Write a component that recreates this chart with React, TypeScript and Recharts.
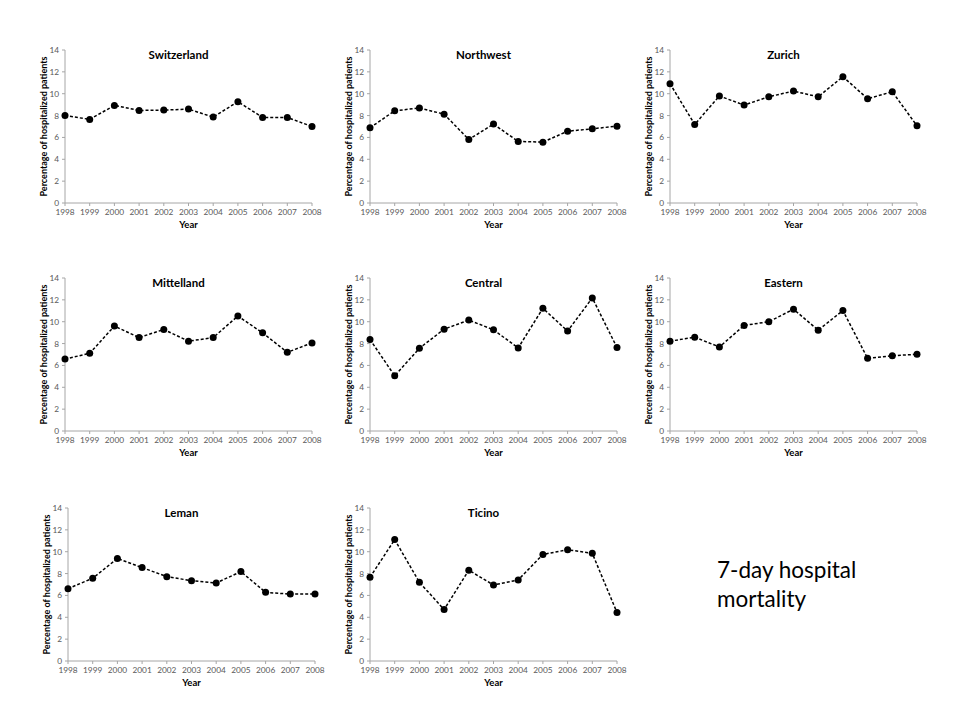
import React from 'react';
import { LineChart, Line, XAxis, YAxis } from 'recharts';

const years = [1998, 1999, 2000, 2001, 2002, 2003, 2004, 2005, 2006, 2007, 2008];
const yTicks = [0, 2, 4, 6, 8, 10, 12, 14];

const switzerland = [8.0, 7.65, 8.93, 8.47, 8.5, 8.59, 7.86, 9.27, 7.83, 7.83, 7.0];
const northwest = [6.88, 8.44, 8.69, 8.13, 5.81, 7.22, 5.63, 5.57, 6.57, 6.79, 7.03];
const zurich = [10.92, 7.19, 9.79, 8.96, 9.72, 10.24, 9.72, 11.56, 9.54, 10.18, 7.06];
const mittelland = [6.58, 7.11, 9.6, 8.55, 9.29, 8.22, 8.55, 10.52, 8.98, 7.2, 8.06];
const central = [8.37, 5.05, 7.57, 9.32, 10.15, 9.26, 7.6, 11.23, 9.14, 12.18, 7.63];
const eastern = [8.22, 8.58, 7.69, 9.66, 10.0, 11.14, 9.23, 11.02, 6.65, 6.89, 7.02];
const leman = [6.62, 7.57, 9.38, 8.55, 7.72, 7.35, 7.14, 8.18, 6.28, 6.12, 6.12];
const ticino = [7.66, 11.11, 7.2, 4.71, 8.31, 6.95, 7.42, 9.75, 10.18, 9.85, 4.43];

const titles = ['Switzerland', 'Northwest', 'Zurich', 'Mittelland', 'Central', 'Eastern', 'Leman', 'Ticino'];
const seriesList = [switzerland, northwest, zurich, mittelland, central, eastern, leman, ticino];

const yLabel = 'Percentage of hospitalized patients';
const xLabel = 'Year';
const sideText = ['7-day hospital', 'mortality'];

// layout: plot-area left / top for each panel
const plotLefts = [65, 370, 670, 65, 370, 670, 68, 370];
const plotTops = [50, 50, 50, 278, 278, 278, 508, 508];

const FONT = 'Lato, "Noto Sans", sans-serif';
const AXIS = '#a6a6a6';
const TICKTXT = '#595959';

const YAXIS_W = 45;
const PLOT_W = 247;
const M_RIGHT = 20;
const CHART_W = YAXIS_W + PLOT_W + M_RIGHT;
const CHART_H = 210;
const M_TOP = 20;
const M_BOTTOM = 7;
const XAXIS_H = 30;

function Panel({ title, values, plotLeft, plotTop }: { title: string; values: number[]; plotLeft: number; plotTop: number }) {
  const data = years.map((y, i) => ({ year: y, v: values[i] }));
  const left = plotLeft - YAXIS_W;
  const top = plotTop - M_TOP;
  const titleCx = plotLeft + PLOT_W / 2 - 10;
  return (
    <>
      <div style={{ position: 'absolute', left, top }}>
        <LineChart
          width={CHART_W}
          height={CHART_H}
          data={data}
          margin={{ top: M_TOP, right: M_RIGHT, bottom: M_BOTTOM, left: 0 }}
          style={{ fontFamily: FONT }}
        >
          <XAxis
            dataKey="year"
            type="number"
            domain={[1998, 2008]}
            ticks={years}
            interval={0}
            height={XAXIS_H}
            stroke={AXIS}
            tickSize={3}
            tickMargin={3}
            tick={{ fill: TICKTXT, fontSize: 8.3, fontFamily: FONT }}
            label={{
              content: (p: any) => {
                const vb = p.viewBox || {};
                return (
                  <text
                    x={vb.x + vb.width / 2}
                    y={vb.y + 21}
                    textAnchor="middle"
                    dominantBaseline="central"
                    fontSize={9.5}
                    fontWeight="bold"
                    fontFamily={FONT}
                    fill="#000"
                  >
                    {xLabel}
                  </text>
                );
              },
            }}
          />
          <YAxis
            type="number"
            domain={[0, 14]}
            ticks={yTicks}
            interval={0}
            width={YAXIS_W}
            stroke={AXIS}
            tickSize={3}
            tickMargin={3}
            tick={{ fill: TICKTXT, fontSize: 8.3, fontFamily: FONT }}
            label={{
              content: (p: any) => {
                const vb = p.viewBox || {};
                const x = 23;
                const y = vb.y + vb.height / 2;
                return (
                  <text
                    x={x}
                    y={y}
                    transform={`rotate(-90, ${x}, ${y})`}
                    textAnchor="middle"
                    dominantBaseline="central"
                    fontSize={9}
                    fontWeight="bold"
                    fontFamily={FONT}
                    fill="#000"
                  >
                    {yLabel}
                  </text>
                );
              },
            }}
          />
          <Line
            type="linear"
            dataKey="v"
            stroke="#000"
            strokeWidth={1.5}
            strokeDasharray="3 2"
            dot={{ r: 3.5, fill: '#000', stroke: 'none' }}
            activeDot={false}
            isAnimationActive={false}
          />
        </LineChart>
      </div>
      <div
        style={{
          position: 'absolute',
          left: titleCx - 100,
          top: plotTop + 5 - 8,
          width: 200,
          height: 16,
          lineHeight: '16px',
          textAlign: 'center',
          fontFamily: FONT,
          fontWeight: 'bold',
          fontSize: 11.5,
          color: '#000',
        }}
      >
        {title}
      </div>
    </>
  );
}

export default function App() {
  return (
    <div style={{ position: 'absolute', left: 0, top: 0, width: 960, height: 720, background: '#fff', overflow: 'hidden' }}>
      {titles.map((t, i) => (
        <Panel key={t} title={t} values={seriesList[i]} plotLeft={plotLefts[i]} plotTop={plotTops[i]} />
      ))}
      <div
        style={{
          position: 'absolute',
          left: 717,
          top: 555,
          fontFamily: FONT,
          fontSize: 22.5,
          lineHeight: '29px',
          color: '#000',
        }}
      >
        {sideText.map((s) => (
          <div key={s}>{s}</div>
        ))}
      </div>
    </div>
  );
}
